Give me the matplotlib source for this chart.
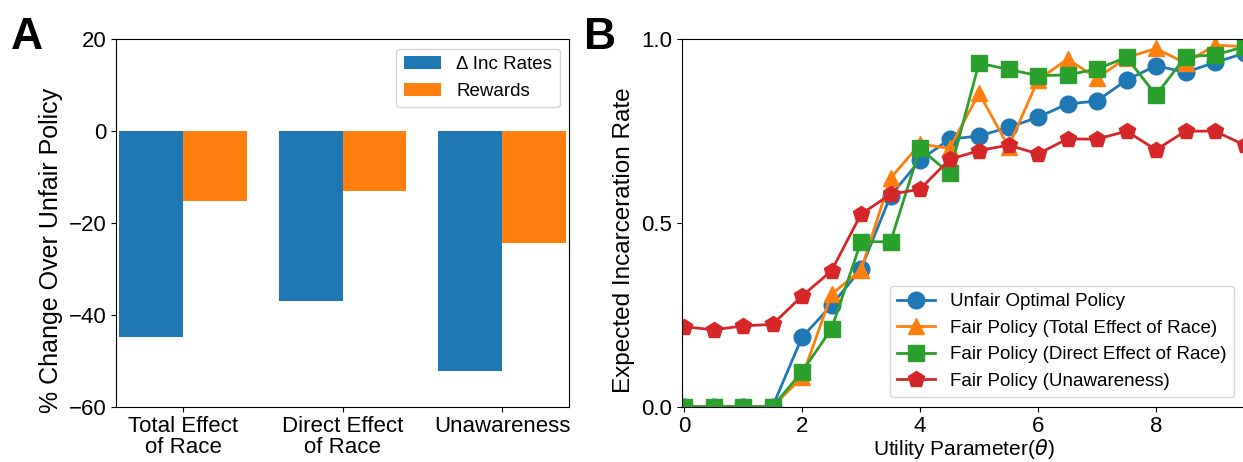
import numpy as np
import matplotlib
matplotlib.use('Agg')
import matplotlib.pyplot as plt

plt.rcParams['font.family'] = ['Liberation Sans', 'DejaVu Sans']

# Painel A - barras
categorias = ['Total Effect\nof Race', 'Direct Effect\nof Race', 'Unawareness']
delta_inc = [-44.9, -37.0, -52.3]
rewards = [-15.2, -13.0, -24.4]

# Painel B - curvas por theta
theta = [0, 0.5, 1, 1.5, 2, 2.5, 3, 3.5, 4, 4.5, 5, 5.5, 6, 6.5, 7, 7.5, 8, 8.5, 9, 9.5]
unfair = [0, 0, 0, 0, 0.189, 0.276, 0.375, 0.574, 0.671, 0.728, 0.737, 0.760, 0.788,
          0.824, 0.832, 0.889, 0.928, 0.910, 0.937, 0.962]
fair_total = [0, 0, 0, 0, 0.08, 0.306, 0.372, 0.622, 0.715, 0.703, 0.853, 0.708, 0.889,
              0.946, 0.894, 0.950, 0.975, 0.935, 0.984, 0.980]
fair_direct = [0, 0, 0, 0, 0.095, 0.212, 0.449, 0.449, 0.703, 0.635, 0.935, 0.918, 0.901,
               0.903, 0.919, 0.951, 0.848, 0.953, 0.957, 0.980]
fair_unaware = [0.218, 0.209, 0.220, 0.224, 0.301, 0.370, 0.524, 0.578, 0.592, 0.673, 0.697,
                0.712, 0.688, 0.729, 0.728, 0.750, 0.699, 0.750, 0.750, 0.712]

fig = plt.figure(figsize=(12.43, 4.62), dpi=100)

# --- A ---
ax1 = fig.add_axes([0.0933, 0.1197, 0.3645, 0.7953])
x = np.arange(len(categorias))
w = 0.4
ax1.bar(x - w / 2, delta_inc, w, color='#1f77b4', label='Δ Inc Rates')
ax1.bar(x + w / 2, rewards, w, color='#ff7f0e', label='Rewards')
ax1.set_xticks(x)
ax1.set_xticklabels(categorias, fontsize=16, linespacing=1.0)
ax1.set_xlim(-0.42, 2.42)
ax1.set_ylim(-60, 20)
ax1.set_yticks([-60, -40, -20, 0, 20])
ax1.tick_params(axis='y', labelsize=16)
ax1.set_ylabel('% Change Over Unfair Policy', fontsize=18)
ax1.yaxis.label.set_y(0.424)
ax1.legend(loc='upper right', fontsize=13.5, handlelength=2.0)

# --- B ---
ax2 = fig.add_axes([0.5484, 0.1197, 0.454, 0.7953])
ax2.plot(theta, unfair, marker='o', color='#1f77b4', lw=2, ms=12, label='Unfair Optimal Policy')
ax2.plot(theta, fair_total, marker='^', color='#ff7f0e', lw=2, ms=12, label='Fair Policy (Total Effect of Race)')
ax2.plot(theta, fair_direct, marker='s', color='#2ca02c', lw=2, ms=12, label='Fair Policy (Direct Effect of Race)')
ax2.plot(theta, fair_unaware, marker='p', color='#d62728', lw=2, ms=12, label='Fair Policy (Unawareness)')
ax2.set_xlim(-0.04, 9.525)
ax2.set_ylim(0, 1)
ax2.set_xticks([0, 2, 4, 6, 8])
ax2.set_yticks([0.0, 0.5, 1.0])
ax2.tick_params(labelsize=16)
ax2.set_xlabel('Utility Parameter($\\theta$)', fontsize=15, labelpad=0)
ax2.set_ylabel('Expected Incarceration Rate', fontsize=17.5)
ax2.yaxis.label.set_y(0.452)
leg = ax2.legend(loc='lower right', fontsize=13.5, bbox_to_anchor=(0.9945, 0.0))

fig.text(0.009, 0.893, 'A', fontsize=32, fontweight='bold')
fig.text(0.470, 0.893, 'B', fontsize=32, fontweight='bold')

fig.savefig('out.png', dpi=100)
